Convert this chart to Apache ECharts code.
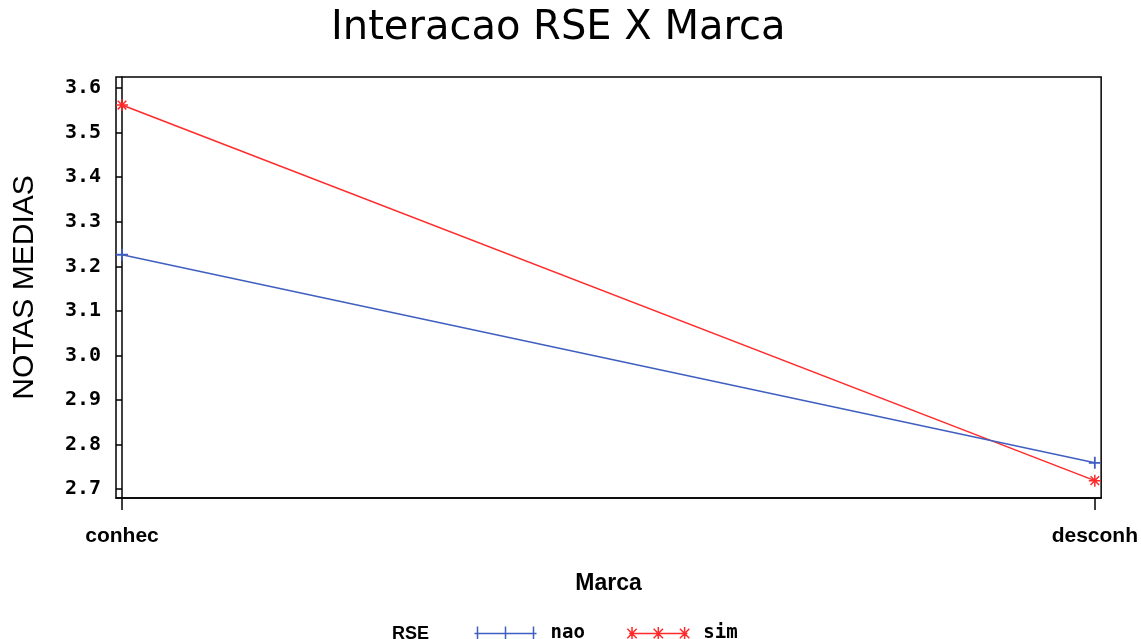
<!DOCTYPE html>
<html>
<head>
<meta charset="utf-8">
<script src="https://cdn.jsdelivr.net/npm/echarts@6/dist/echarts.min.js"></script>
<style>html,body{margin:0;padding:0;background:#fff}#c{width:1141px;height:639px}</style>
</head>
<body>
<div id="c"></div>
<script>
var categories = ['conhec', 'desconh'];
var seriesNames = ['nao', 'sim'];
var naoValues = [3.226, 2.759];
var simValues = [3.562, 2.719];
var yTicks = [2.7, 2.8, 2.9, 3.0, 3.1, 3.2, 3.3, 3.4, 3.5, 3.6];

var BLUE = '#3f5fc0';
var RED = '#ff2b2b';
var plusPath = 'path://M0,-7L0,7M-7,0L7,0';
var starPath = 'path://M0,-7L0,7M-7,0L7,0M-5,-5L5,5M-5,5L5,-5';
var legPlus = 'path://M0,7L62,7M3,0L3,14M31,0L31,14M59,0L59,14';
var legStar = 'path://M0,7L62,7M3,0L3,14M31,0L31,14M59,0L59,14M-2,2L8,12M-2,12L8,2M26,2L36,12M26,12L36,2M54,2L64,12M54,12L64,2';

function toPts(vals) { return vals.map(function (v, i) { return [i, v]; }); }

var chart = echarts.init(document.getElementById('c'));
chart.setOption({
  animation: false,
  backgroundColor: '#fff',
  title: [
    { text: 'Interacao RSE X Marca', left: 326, top: 4,
      textStyle: { fontFamily: 'DejaVu Sans', fontWeight: 'normal', fontSize: 40, color: '#000' } },
    { text: 'RSE', left: 387, top: 620,
      textStyle: { fontFamily: 'Liberation Sans', fontWeight: 'bold', fontSize: 18, color: '#000' } }
  ],
  legend: {
    left: 467, top: 619, itemGap: 40, itemWidth: 62, itemHeight: 14,
    data: [
      { name: 'nao', icon: legPlus, itemStyle: { color: 'none', borderColor: BLUE, borderWidth: 1.5 } },
      { name: 'sim', icon: legStar, itemStyle: { color: 'none', borderColor: RED, borderWidth: 1.5 } }
    ],
    textStyle: { fontFamily: 'DejaVu Sans Mono', fontWeight: 'bold', fontSize: 19, color: '#000', padding: [0, 0, 0, 9] }
  },
  grid: { left: 116, right: 38, top: 77, bottom: 141, show: true, borderColor: '#000', borderWidth: 1.5, backgroundColor: 'transparent' },
  xAxis: {
    type: 'value', min: -0.00616, max: 1.0065,
    name: 'Marca', nameLocation: 'middle', nameGap: 74,
    nameTextStyle: { fontFamily: 'Liberation Sans', fontWeight: 'bold', fontSize: 23, color: '#000' },
    axisLine: { lineStyle: { color: '#000', width: 1.5 } },
    axisTick: { show: true, inside: false, length: 12, customValues: [0, 1], lineStyle: { color: '#000', width: 1.5 } },
    axisLabel: { customValues: [0, 1], margin: 28, formatter: function (v) { return categories[Math.round(v)]; },
      fontFamily: 'Liberation Sans', fontWeight: 'bold', fontSize: 21, color: '#000' },
    splitLine: { show: false }
  },
  yAxis: {
    type: 'value', min: 2.68, max: 3.625,
    name: 'NOTAS MEDIAS', nameLocation: 'middle', nameGap: 76,
    nameTextStyle: { fontFamily: 'Liberation Sans', fontWeight: 'normal', fontSize: 30, color: '#000' },
    axisLine: { show: true, lineStyle: { color: '#000', width: 1.5 } },
    axisTick: { show: true, inside: false, length: 6, customValues: yTicks, lineStyle: { color: '#000', width: 1.5 } },
    axisLabel: { customValues: yTicks, margin: 15, formatter: function (v) { return v.toFixed(1); },
      fontFamily: 'DejaVu Sans Mono', fontWeight: 'bold', fontSize: 20, color: '#000' },
    splitLine: { show: false }
  },
  series: [
    { name: 'nao', type: 'line', data: toPts(naoValues), symbol: plusPath, symbolSize: 12, z: 3, clip: false,
      lineStyle: { color: BLUE, width: 1.5 }, itemStyle: { color: 'none', borderColor: BLUE, borderWidth: 1.8 } },
    { name: 'sim', type: 'line', data: toPts(simValues), symbol: starPath, symbolSize: 12, z: 2, clip: false,
      lineStyle: { color: RED, width: 1.5 }, itemStyle: { color: 'none', borderColor: RED, borderWidth: 1.5 } }
  ]
});
</script>
</body>
</html>
